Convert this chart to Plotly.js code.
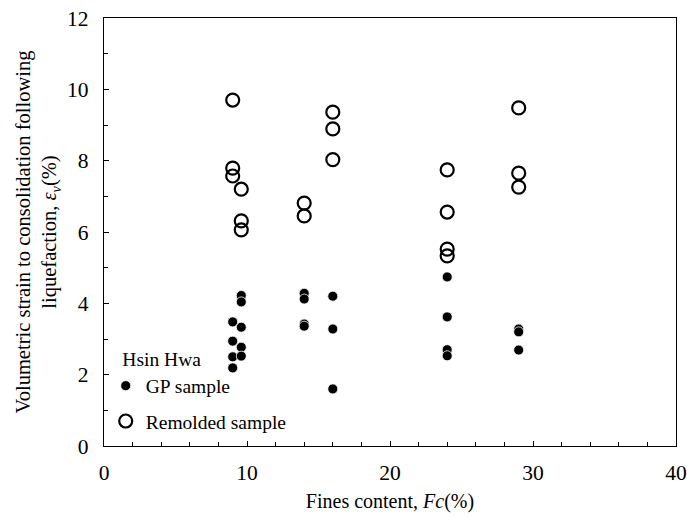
<!DOCTYPE html>
<html><head><meta charset="utf-8">
<script src="https://cdn.plot.ly/plotly-3.0.1.min.js"></script>
<style>html,body{margin:0;padding:0;background:#fff}</style>
</head><body>
<div id="chart" style="width:687px;height:518px"></div>
<script>
// GP sample (filled)
const gpFc = [9, 9, 9, 9, 9.6, 9.6, 9.6, 9.6, 9.6, 14, 14, 14, 14, 16, 16, 16, 24, 24, 24, 24, 29, 29, 29];
const gpEv = [3.48, 2.94, 2.5, 2.19, 4.22, 4.04, 3.33, 2.77, 2.52, 4.28, 4.12, 3.42, 3.36, 4.2, 3.28, 1.6, 4.74, 3.62, 2.7, 2.53, 3.28, 3.2, 2.69];
// Remolded sample (open)
const reFc = [9, 9, 9, 9.6, 9.6, 9.6, 14, 14, 16, 16, 16, 24, 24, 24, 24, 29, 29, 29];
const reEv = [9.7, 7.79, 7.57, 7.2, 6.31, 6.06, 6.81, 6.45, 9.36, 8.89, 8.03, 7.74, 6.56, 5.52, 5.33, 9.48, 7.65, 7.26];
const xTicks = [0, 10, 20, 30, 40];
const yTicks = [0, 2, 4, 6, 8, 10, 12];

const fam = '"Liberation Serif", "Times New Roman", Times, serif';
const f = (s) => ({family: fam, size: s, color: '#000'});
const traces = [
  {x: gpFc, y: gpEv, type: 'scatter', mode: 'markers', name: 'GP sample', legendgroup: 'a',
   marker: {symbol: 'circle', size: 10, color: '#000', line: {color: '#fff', width: 0.8}}},
  {x: reFc, y: reEv, type: 'scatter', mode: 'markers', name: 'Remolded sample', legendgroup: 'b',
   marker: {symbol: 'circle-open', size: 13, color: '#000', line: {color: '#000', width: 2.2}}}
];
const layout = {
  width: 687, height: 518,
  margin: {l: 104, r: 11, t: 18, b: 72},
  paper_bgcolor: '#fff', plot_bgcolor: '#fff',
  font: f(19),
  showlegend: true,
  legend: {x: 0.003, y: 0.245, xanchor: 'left', yanchor: 'top', bgcolor: 'rgba(0,0,0,0)',
    font: f(19.5), tracegroupgap: 7, itemwidth: 30,
    title: {text: '&nbsp;&nbsp;&nbsp;Hsin Hwa', font: f(19.5), side: 'top'}},
  xaxis: {range: [0, 40], tickvals: xTicks, ticks: 'inside', ticklen: 5, tickcolor: '#000',
    showgrid: false, zeroline: false, showline: true, linecolor: '#000', linewidth: 1.3, mirror: true,
    minor: {dtick: 2, ticks: 'inside', ticklen: 4, tickcolor: '#000', showgrid: false},
    tickfont: f(21.5), ticklabelstandoff: 7,
    title: {text: 'Fines content, <i>Fc</i>(%)', font: f(20), standoff: 10}},
  yaxis: {range: [0, 12], tickvals: yTicks, ticks: 'inside', ticklen: 5, tickcolor: '#000',
    showgrid: false, zeroline: false, showline: true, linecolor: '#000', linewidth: 1.3, mirror: true,
    minor: {dtick: 1, ticks: 'inside', ticklen: 4, tickcolor: '#000', showgrid: false},
    tickfont: f(21.5), ticklabelstandoff: 10,
    title: {text: 'Volumetric strain to consolidation following<br>liquefaction, <i>ε<sub>v</sub></i>(%)', font: f(20.5), standoff: 4}}
};
Plotly.newPlot('chart', traces, layout, {displayModeBar: false, staticPlot: true});
</script>
</body></html>
